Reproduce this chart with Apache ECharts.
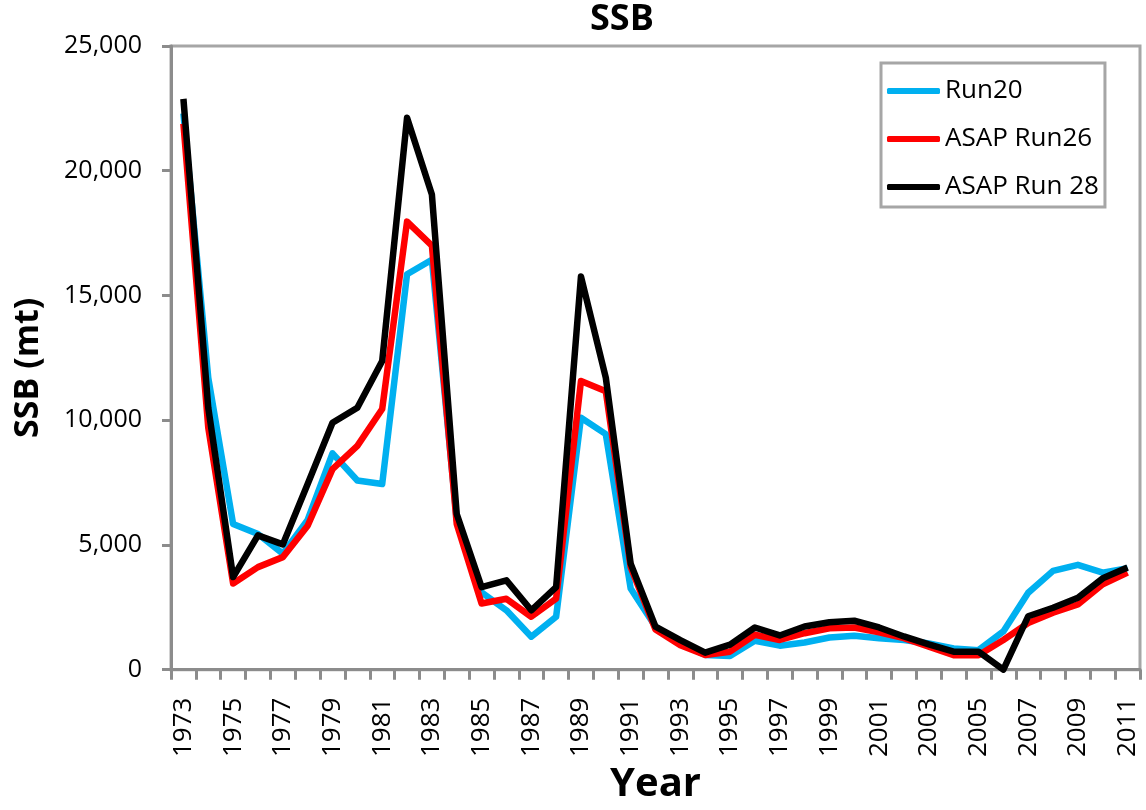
<!DOCTYPE html>
<html>
<head>
<meta charset="utf-8">
<script src="https://cdn.jsdelivr.net/npm/echarts@6/dist/echarts.min.js"></script>
<style>
html,body{margin:0;padding:0;background:#fff;}
#chart{width:1146px;height:810px;}
</style>
</head>
<body>
<div id="chart"></div>
<script>
const years = [];
for (let y = 1973; y <= 2011; y++) years.push(String(y));

const run20 = [22300, 11700, 5840, 5440, 4650, 6000, 8670, 7580, 7440, 15850, 16430, 6000, 3100, 2380, 1320, 2120, 10100, 9440, 3250, 1720, 1050, 590, 550, 1160, 960, 1090, 1290, 1360, 1260, 1190, 1050, 850, 780, 1530, 3080, 3960, 4200, 3890, 4070];
const asapRun26 = [21880, 9700, 3450, 4110, 4510, 5770, 8040, 8970, 10450, 17960, 17000, 5840, 2650, 2840, 2120, 2850, 11570, 11160, 4110, 1610, 980, 590, 720, 1400, 1190, 1460, 1660, 1690, 1500, 1260, 920, 580, 580, 1190, 1870, 2280, 2610, 3420, 3890];
const asapRun28 = [22880, 10500, 3710, 5380, 5020, 7440, 9900, 10500, 12370, 22120, 19050, 6240, 3310, 3580, 2380, 3310, 15760, 11700, 4250, 1720, 1180, 680, 1000, 1690, 1370, 1730, 1900, 1960, 1690, 1330, 1010, 720, 720, 0, 2140, 2480, 2880, 3660, 4090];

const seriesNames = ['Run20', 'ASAP Run26', 'ASAP Run 28'];
const seriesColors = ['#00b0f0', '#ff0000', '#000000'];
const seriesData = [run20, asapRun26, asapRun28];

const chart = echarts.init(document.getElementById('chart'), null, {renderer: 'canvas'});
const axisGray = '#8c8c8c';
const font = 'Open Sans';

chart.setOption({
  animation: false,
  backgroundColor: '#ffffff',
  title: {
    text: 'SSB',
    left: 590,
    top: 2,
    padding: 0,
    textStyle: {fontFamily: font, fontWeight: 'bold', fontSize: 36, color: '#000'}
  },
  legend: {
    left: 881,
    top: 63,
    orient: 'vertical',
    padding: [15, 6, 7, 6],
    itemGap: 22,
    itemWidth: 53,
    itemHeight: 6,
    icon: 'roundRect',
    borderColor: '#a6a6a6',
    borderWidth: 3,
    backgroundColor: '#fff',
    textStyle: {fontFamily: font, fontSize: 26, color: '#000'},
    data: seriesNames
  },
  grid: {
    left: 171, right: 6, top: 46, bottom: 137,
    show: true, borderColor: '#a6a6a6', borderWidth: 3, containLabel: false
  },
  xAxis: {
    type: 'category',
    data: years,
    boundaryGap: true,
    name: 'Year',
    nameLocation: 'middle',
    nameGap: 94,
    nameTextStyle: {fontFamily: font, fontWeight: 'bold', fontSize: 40, color: '#000'},
    axisLine: {lineStyle: {color: axisGray, width: 3}},
    axisTick: {show: true, inside: false, length: 10, interval: 0, lineStyle: {color: axisGray, width: 3}},
    axisLabel: {interval: 1, rotate: 90, margin: 28, fontFamily: font, fontSize: 26, color: '#000'},
    splitLine: {show: false}
  },
  yAxis: {
    type: 'value',
    min: 0, max: 25000, interval: 5000,
    name: 'SSB (mt)',
    nameLocation: 'middle',
    nameGap: 126,
    nameRotate: 90,
    nameTextStyle: {fontFamily: font, fontWeight: 'bold', fontSize: 34, color: '#000', padding: [0, 20, 0, 0]},
    axisLine: {show: true, lineStyle: {color: axisGray, width: 3}},
    axisTick: {show: true, inside: false, length: 9, lineStyle: {color: axisGray, width: 3}},
    axisLabel: {margin: 29, fontFamily: font, fontSize: 25, color: '#000',
      formatter: v => v.toLocaleString('en-US')},
    splitLine: {show: false}
  },
  series: seriesNames.map((n, i) => ({
    name: n,
    type: 'line',
    data: seriesData[i],
    showSymbol: false,
    symbol: 'none',
    lineStyle: {color: seriesColors[i], width: 6.5, join: 'round'},
    itemStyle: {color: seriesColors[i]},
    z: 2 + i
  }))
});
</script>
</body>
</html>
